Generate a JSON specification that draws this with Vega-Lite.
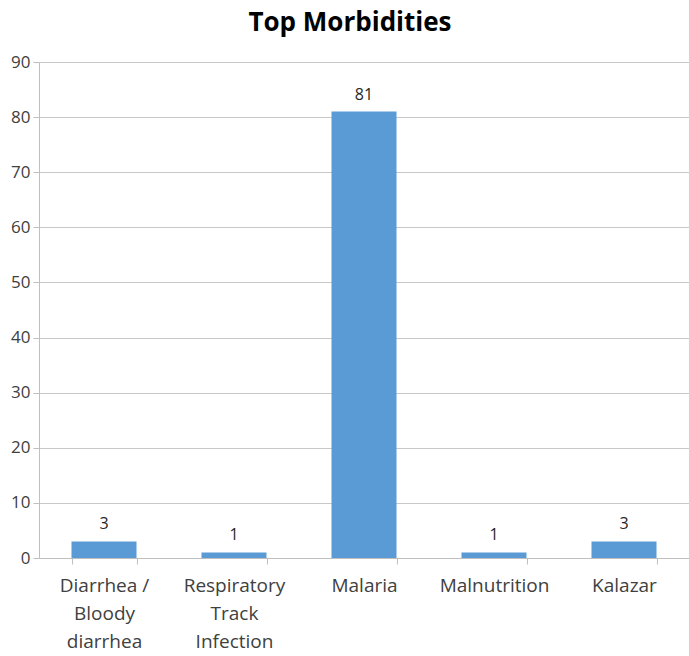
{
  "$schema": "https://vega.github.io/schema/vega-lite/v6.json",
  "width": 650,
  "height": 496,
  "autosize": {"type": "none"},
  "padding": {"left": 39, "top": 62, "right": 0, "bottom": 98},
  "background": "white",
  "title": {
    "text": "Top Morbidities",
    "font": "Open Sans",
    "fontSize": 26,
    "fontWeight": "bold",
    "color": "#000000",
    "anchor": "middle",
    "dx": -14,
    "offset": 17
  },
  "data": {
    "values": [
      {"morbidity": "Diarrhea / Bloody diarrhea", "cases": 3},
      {"morbidity": "Respiratory Track Infection", "cases": 1},
      {"morbidity": "Malaria", "cases": 81},
      {"morbidity": "Malnutrition", "cases": 1},
      {"morbidity": "Kalazar", "cases": 3}
    ]
  },
  "encoding": {
    "x": {
      "field": "morbidity",
      "type": "nominal",
      "sort": null,
      "scale": {"paddingInner": 0.5, "paddingOuter": 0.25},
      "axis": {
        "title": null,
        "labelAngle": 0,
        "labelFont": "Open Sans",
        "labelFontSize": 19,
        "labelColor": "#404040",
        "labelLineHeight": 28,
        "labelPadding": 21,
        "labelBaseline": "middle",
        "labelExpr": "datum.value == 'Diarrhea / Bloody diarrhea' ? ['Diarrhea /', 'Bloody', 'diarrhea'] : datum.value == 'Respiratory Track Infection' ? ['Respiratory', 'Track', 'Infection'] : datum.value",
        "tickBand": "extent",
        "tickSize": 6,
        "tickColor": "#BFBFBF",
        "domainColor": "#BFBFBF",
        "grid": false
      }
    },
    "y": {
      "field": "cases",
      "type": "quantitative",
      "scale": {"domain": [0, 90]},
      "axis": {
        "title": null,
        "values": [0, 10, 20, 30, 40, 50, 60, 70, 80, 90],
        "labelFont": "Open Sans",
        "labelFontSize": 17,
        "labelColor": "#404040",
        "labelPadding": 3,
        "tickSize": 6,
        "tickColor": "#BFBFBF",
        "domainColor": "#BFBFBF",
        "gridColor": "#C8C8C8",
        "gridWidth": 1
      }
    }
  },
  "layer": [
    {"mark": {"type": "bar", "color": "#5B9BD5"}},
    {
      "mark": {
        "type": "text",
        "baseline": "bottom",
        "dy": -9,
        "font": "Open Sans",
        "fontSize": 16,
        "color": "#262626"
      },
      "encoding": {"text": {"field": "cases", "type": "quantitative"}}
    }
  ],
  "config": {"view": {"stroke": null}}
}
